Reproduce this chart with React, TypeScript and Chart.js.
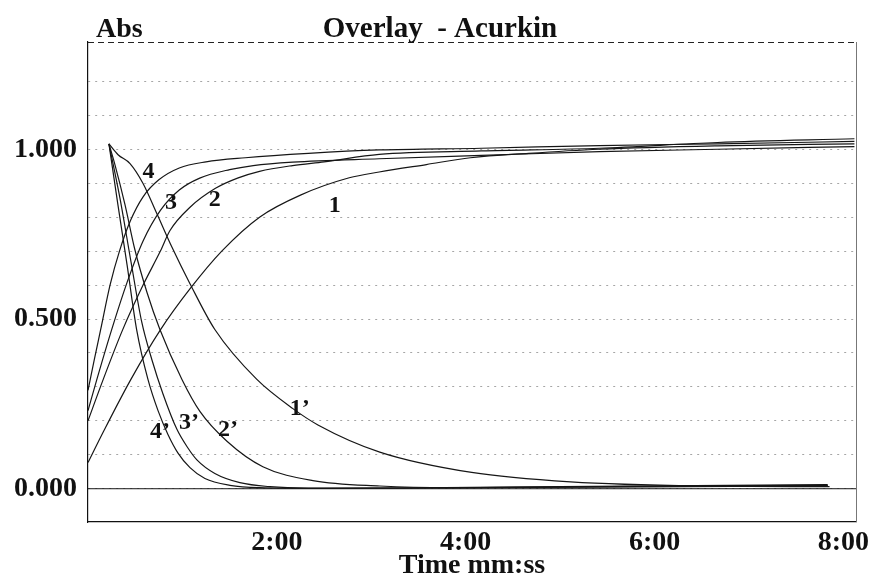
import React, { useEffect, useRef } from "react";
import { Chart, registerables } from "chart.js";

Chart.register(...registerables);

const SERIF = "'Liberation Serif', 'Times New Roman', Times, serif";

// ---- data: time in seconds, absorbance ----
// rising curves
const time4 = [0, 4, 8, 14, 20, 27, 35, 45, 58, 75, 100, 140, 185, 250, 325, 400, 487];
const abs4 = [0.29, 0.38, 0.468, 0.6, 0.7, 0.79, 0.86, 0.91, 0.945, 0.963, 0.975, 0.988, 0.998, 1.003, 1.011, 1.016, 1.023];

const time3 = [0, 5.5, 15, 25, 35, 46, 58, 71, 90, 105, 130, 185, 250, 325, 400, 487];
const abs3 = [0.23, 0.32, 0.468, 0.61, 0.73, 0.82, 0.88, 0.915, 0.94, 0.952, 0.962, 0.972, 0.982, 0.993, 1.0, 1.008];

const time2 = [0, 9.5, 22, 35, 46, 52, 65, 81, 95, 109, 130, 150, 185, 250, 325, 400, 487];
const abs2 = [0.2, 0.32, 0.468, 0.6, 0.7, 0.76, 0.83, 0.885, 0.915, 0.935, 0.952, 0.963, 0.985, 0.995, 1.003, 1.02, 1.031];

const time1 = [0, 10, 27, 46, 65, 85, 109, 135, 166, 185, 215, 243, 280, 325, 400, 487];
const abs1 = [0.077, 0.17, 0.32, 0.468, 0.59, 0.7, 0.8, 0.865, 0.916, 0.933, 0.955, 0.975, 0.988, 1.0, 1.01, 1.016];

// decaying curves
const time4p = [13.3, 19, 24.8, 30.9, 38.1, 44.5, 50.8, 57.2, 64.8, 74.3, 90.2, 109, 150, 300, 470];
const abs4p = [1.016, 0.837, 0.66, 0.469, 0.322, 0.23, 0.16, 0.105, 0.062, 0.03, 0.01, 0.003, 0.001, 0.006, 0.012];

const time3p = [13.3, 20.3, 27.3, 34.1, 40.6, 47.6, 56.5, 63.5, 69.2, 80.6, 96.5, 115.6, 140, 200, 350, 470];
const abs3p = [1.016, 0.856, 0.669, 0.492, 0.38, 0.28, 0.175, 0.12, 0.085, 0.045, 0.018, 0.006, 0.002, 0.002, 0.007, 0.01];

const time2p = [13.3, 17.1, 23.5, 29.8, 37.5, 45.7, 59.7, 71.1, 88.3, 111.1, 142.9, 185.4, 230, 380, 470];
const abs2p = [1.016, 0.955, 0.837, 0.704, 0.578, 0.469, 0.322, 0.228, 0.14, 0.065, 0.024, 0.008, 0.003, 0.006, 0.009];

const time1p = [13.3, 19.1, 26.7, 34.9, 43.8, 53.3, 64.8, 80.6, 107.3, 130.2, 146.1, 185.4, 243.8, 306.7, 389.9, 471.2];
const abs1p = [1.016, 0.984, 0.958, 0.9, 0.81, 0.712, 0.604, 0.469, 0.322, 0.236, 0.188, 0.108, 0.048, 0.02, 0.008, 0.006];

const baselineTime = [0, 488];
const baselineAbs = [0, 0];

// axes
const X_MIN = 0;
const X_MAX = 488;
const Y_MIN = -0.098;
const Y_MAX = 1.316;
const xTickSeconds = [120, 240, 360, 480];
const yTickValues = [0, 0.1, 0.2, 0.3, 0.4, 0.5, 0.6, 0.7, 0.8, 0.9, 1.0, 1.1, 1.2];
const yLabelValues = [0, 0.5, 1.0];

// curve annotations (text, time s, absorbance)
const curveLabelText = ["4", "3", "2", "1", "1\u2019", "2\u2019", "3\u2019", "4\u2019"];
const curveLabelTime = [38.4, 52.7, 80.6, 156.8, 134.6, 88.9, 64.1, 45.7];
const curveLabelAbs = [0.935, 0.843, 0.851, 0.834, 0.236, 0.174, 0.195, 0.168];

const titleText = "Overlay  - Acurkin";
const yUnitText = "Abs";
const xTitleText = "Time mm:ss";

const toPoints = (t: number[], v: number[]) => t.map((x, i) => ({ x, y: v[i] }));

const fmtTime = (s: number) => {
  const m = Math.floor(s / 60);
  const sec = Math.round(s - m * 60);
  return `${m}:${sec < 10 ? "0" : ""}${sec}`;
};

export default function App() {
  const canvasRef = useRef<HTMLCanvasElement | null>(null);

  useEffect(() => {
    const canvas = canvasRef.current;
    if (!canvas) return;

    const lineStyle = {
      borderColor: "#161616",
      borderWidth: 1.2,
      pointRadius: 0,
      fill: false,
      cubicInterpolationMode: "monotone" as const,
    };

    const decorPlugin = {
      id: "decor",
      beforeDraw(chart: any) {
        const { ctx } = chart;
        ctx.save();
        ctx.fillStyle = "#ffffff";
        ctx.fillRect(0, 0, chart.width, chart.height);
        ctx.restore();
      },
      afterDraw(chart: any) {
        const { ctx, chartArea } = chart;
        const xs = chart.scales.x;
        const ys = chart.scales.y;
        ctx.save();
        // top dashed border
        ctx.strokeStyle = "#222";
        ctx.lineWidth = 1;
        ctx.setLineDash([6, 4]);
        ctx.beginPath();
        ctx.moveTo(chartArea.left, chartArea.top + 0.5);
        ctx.lineTo(chartArea.right, chartArea.top + 0.5);
        ctx.stroke();
        // right border
        ctx.setLineDash([]);
        ctx.strokeStyle = "#777";
        ctx.beginPath();
        ctx.moveTo(chartArea.right + 0.5, chartArea.top);
        ctx.lineTo(chartArea.right + 0.5, chartArea.bottom);
        ctx.stroke();

        // titles
        ctx.fillStyle = "#111";
        ctx.font = `bold 28px ${SERIF}`;
        ctx.textBaseline = "alphabetic";
        ctx.textAlign = "left";
        ctx.fillText(yUnitText, 96, 37);
        ctx.textAlign = "center";
        ctx.font = `bold 29px ${SERIF}`;
        ctx.fillText(titleText, 440, 37);

        // curve labels
        ctx.font = `bold 24px ${SERIF}`;
        ctx.textBaseline = "middle";
        curveLabelText.forEach((txt, i) => {
          const px = xs.getPixelForValue(curveLabelTime[i]);
          const py = ys.getPixelForValue(curveLabelAbs[i]);
          ctx.fillText(txt, px, py);
        });
        ctx.restore();
      },
    };

    const chart = new Chart(canvas, {
      type: "line",
      data: {
        datasets: [
          { data: toPoints(time1, abs1), ...lineStyle },
          { data: toPoints(time2, abs2), ...lineStyle },
          { data: toPoints(time3, abs3), ...lineStyle },
          { data: toPoints(time4, abs4), ...lineStyle },
          { data: toPoints(time1p, abs1p), ...lineStyle },
          { data: toPoints(time2p, abs2p), ...lineStyle },
          { data: toPoints(time3p, abs3p), ...lineStyle },
          { data: toPoints(time4p, abs4p), ...lineStyle },
          { data: toPoints(baselineTime, baselineAbs), ...lineStyle, borderWidth: 1, cubicInterpolationMode: "default" as const },
        ],
      },
      options: {
        animation: false,
        responsive: false,
        devicePixelRatio: 1,
        layout: { padding: { top: 42, right: 24, left: 0, bottom: 0 } },
        plugins: {
          legend: { display: false },
          tooltip: { enabled: false },
          title: { display: false },
        },
        scales: {
          x: {
            type: "linear",
            min: X_MIN,
            max: X_MAX,
            afterBuildTicks: (axis: any) => {
              axis.ticks = xTickSeconds.map((value) => ({ value }));
            },
            afterFit: (axis: any) => {
              axis.height = 55;
            },
            grid: { display: false, drawTicks: false },
            border: { display: true, color: "#111", width: 1.2 },
            ticks: {
              padding: 4,
              color: "#111",
              font: { family: SERIF, size: 28, weight: "bold" },
              maxRotation: 0,
              callback: (v: any) => fmtTime(Number(v)),
            },
            title: {
              display: true,
              text: xTitleText,
              color: "#111",
              font: { family: SERIF, size: 28, weight: "bold" },
              padding: { top: 0, bottom: -6 },
            },
          },
          y: {
            type: "linear",
            min: Y_MIN,
            max: Y_MAX,
            afterBuildTicks: (axis: any) => {
              axis.ticks = yTickValues.map((value) => ({ value }));
            },
            afterFit: (axis: any) => {
              axis.width = 88;
            },
            grid: {
              drawTicks: false,
              color: "rgba(0,0,0,0.35)",
              lineWidth: 1,
            },
            border: { display: true, color: "#111", width: 1.2, dash: [2, 5] },
            ticks: {
              padding: 11,
              color: "#111",
              font: { family: SERIF, size: 28, weight: "bold" },
              callback: (v: any) => {
                const n = Number(v);
                return yLabelValues.some((l) => Math.abs(l - n) < 1e-6) ? n.toFixed(3) : "";
              },
            },
          },
        },
      } as any,
      plugins: [decorPlugin],
    });

    return () => chart.destroy();
  }, []);

  return (
    <div style={{ position: "fixed", left: 0, top: 0, width: 880, height: 577, background: "#fff" }}>
      <canvas ref={canvasRef} width={880} height={577} style={{ display: "block" }} />
    </div>
  );
}
